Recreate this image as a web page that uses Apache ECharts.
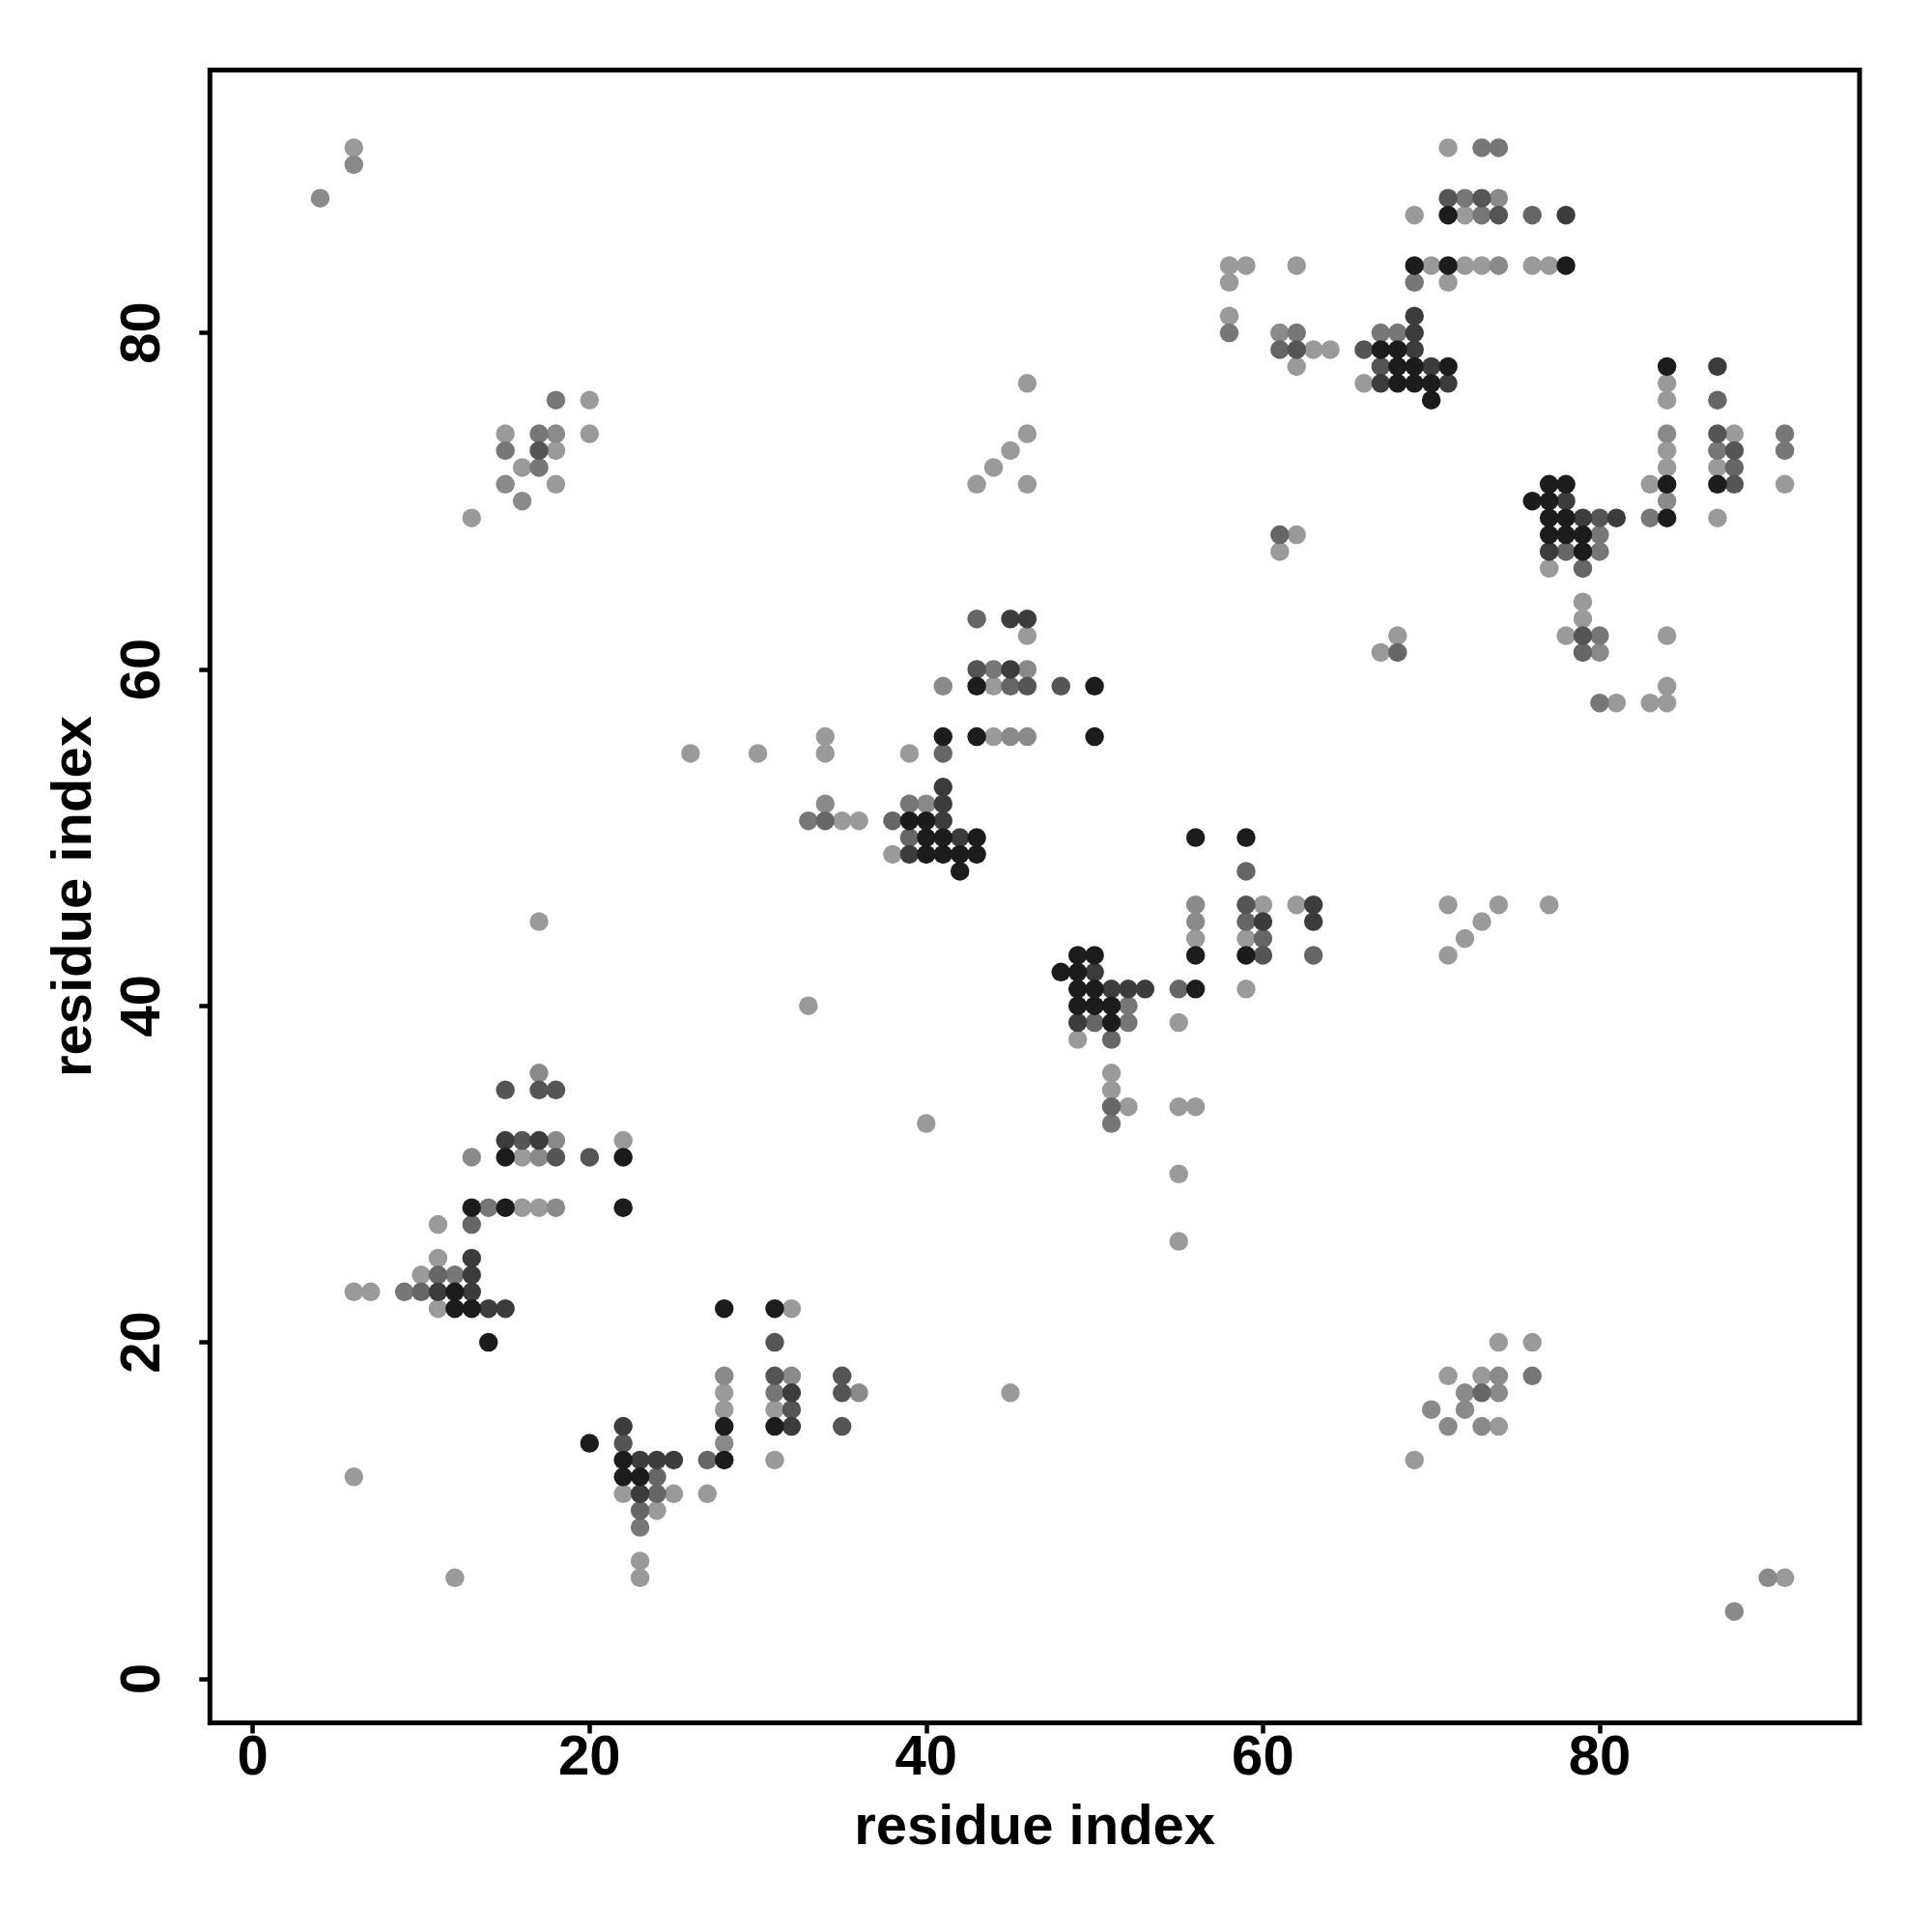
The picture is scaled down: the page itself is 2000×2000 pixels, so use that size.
<!DOCTYPE html>
<html>
<head>
<meta charset="utf-8">
<script src="https://cdn.jsdelivr.net/npm/echarts@6/dist/echarts.min.js"></script>
<style>
html,body{margin:0;padding:0;background:#fff;}
#chart{width:2000px;height:2000px;}
</style>
</head>
<body>
<div id="chart"></div>
<script>
// Tick labels
const xTicks = [0, 20, 40, 60, 80];
const yTicks = [0, 20, 40, 60, 80];
const axisTitleX = 'residue index';
const axisTitleY = 'residue index';

// Contacts [residue i, residue j], grouped by gray level (lightest -> darkest)
const level1 = [[6,91],[20,76],[15,74],[20,74],[18,73],[16,72],[18,71],[13,69],
  [58,84],[59,84],[62,84],[58,83],[58,81],[63,79],[62,78],
  [46,77],[46,74],[45,73],[44,72],[43,71],[46,71],[62,68],[61,67],
  [71,91],[69,87],[72,87],[70,84],[72,84],[73,84],[76,84],[77,84],[71,83],[64,79],[66,77],
  [84,77],[84,76],[88,74],[84,73],[84,72],[87,72],[83,71],[91,71],[87,69],[77,66],[79,64],[79,63],
  [26,55],[30,55],[17,45],[16,31],[22,32],
  [46,62],[44,59],[34,56],[44,56],[34,55],[39,55],[35,51],[36,51],[38,49],
  [60,46],[62,46],[56,44],[59,44],[59,41],[55,39],[49,38],[33,40],[51,36],[51,35],[52,34],[55,34],[56,34],[40,33],[55,30],
  [68,62],[67,61],[78,62],[84,62],[84,59],[81,58],[83,58],[84,58],
  [71,46],[74,46],[77,46],[73,45],[72,44],[71,43],
  [16,28],[17,28],[11,27],[11,25],[10,24],[6,23],[7,23],[11,22],[28,17],[28,16],[22,11],[25,11],[27,11],[24,10],[23,7],[23,6],[6,12],[12,6],
  [55,26],[32,22],[45,17],[31,16],[31,13],
  [74,20],[76,20],[71,18],[73,18],[74,15],[69,13],[91,6]];
const level2 = [[6,90],[4,88],[18,74],[15,71],[16,70],[61,80],[74,88],[74,84],[84,74],[84,70],
  [17,36],[18,32],[13,31],[17,31],
  [46,60],[41,59],[45,56],[46,56],[34,52],[40,52],[56,46],[56,45],
  [80,61],
  [18,28],[28,18],[28,14],
  [32,18],[36,17],
  [74,18],[72,17],[74,17],[70,16],[72,16],[71,15],[73,15],[90,6],[88,4]];
const level3 = [[18,76],[17,74],[15,73],[17,72],[58,80],[62,80],[73,91],[74,91],[72,88],[73,87],[69,83],[67,80],[68,80],
  [91,74],[87,73],[91,73],[83,69],[80,68],[80,67],
  [44,60],[39,52],[33,51],[52,40],[52,39],[51,33],
  [80,62],[80,58],
  [14,28],[12,24],[9,23],[23,9],
  [31,17],
  [76,18]];
const level4 = [[61,79],[61,68],[76,87],[87,76],[88,72],[78,67],[79,66],
  [43,63],[45,59],[41,55],[34,51],[38,51],[39,50],[59,48],[59,45],[60,44],[63,43],[55,41],[50,39],[51,38],[51,34],
  [68,61],[79,61],
  [13,27],[11,24],[10,23],[27,13],[24,12],[24,11],[23,10],
  [73,17]];
const level5 = [[17,73],[62,79],[71,88],[73,88],[74,87],[66,79],[67,78],[87,74],[88,73],[88,71],[80,69],
  [15,35],[17,35],[18,35],[16,32],[18,31],[20,31],
  [43,60],[46,59],[48,59],[59,46],[60,43],
  [79,62],
  [22,14],
  [31,20],[31,18],[35,18],[35,17],[32,16],[35,15]];
const level6 = [[78,87],[69,81],[69,80],[69,79],[70,78],[67,77],[71,77],[87,78],[78,70],[79,69],[81,69],[77,67],
  [15,32],[17,32],
  [45,63],[46,63],[45,60],[41,53],[41,52],[41,51],[42,50],[39,49],[63,46],[60,45],[63,45],[50,42],[51,41],[52,41],[53,41],[49,39],
  [13,25],[13,24],[11,23],[13,23],[14,22],[15,22],[22,15],[23,13],[24,13],[25,13],[23,11],
  [32,17],[32,15]];
const level7 = [[71,87],[69,84],[71,84],[78,84],[67,79],[68,79],[68,78],[69,78],[71,78],[68,77],[69,77],[70,77],[70,76],
  [84,78],[84,71],[87,71],[84,69],[77,71],[78,71],[76,70],[77,70],[77,69],[78,69],[77,68],[78,68],[79,68],[79,67],
  [15,31],[22,31],
  [43,59],[50,59],[41,56],[43,56],[50,56],[39,51],[40,51],[40,50],[41,50],[43,50],[40,49],[41,49],[42,49],[43,49],[42,48],
  [56,50],[59,50],[56,43],[59,43],[49,43],[50,43],[48,42],[49,42],[49,41],[50,41],[56,41],[49,40],[50,40],[51,40],[51,39],
  [13,28],[15,28],[22,28],[12,23],[12,22],[13,22],[28,22],[14,20],[28,15],[28,13],[20,14],[22,13],[22,12],[23,12],
  [31,22],[31,15]];

const levels = [level1, level2, level3, level4, level5, level6, level7];
const levelColors = ['#9a9a9a', '#8a8a8a', '#777777', '#666666', '#555555', '#3c3c3c', '#1c1c1c'];

const font = 'Liberation Sans, Arial, Helvetica, sans-serif';
const chart = echarts.init(document.getElementById('chart'), null, {renderer: 'canvas', width: 2000, height: 2000});

const labelStyle = {fontSize: 58, fontWeight: 'bold', color: '#000', fontFamily: font};

chart.setOption({
  animation: false,
  backgroundColor: '#fff',
  grid: {left: 217.3, right: 75, top: 72.5, bottom: 216.5, show: true, borderColor: '#000', borderWidth: 5, backgroundColor: 'transparent'},
  xAxis: {
    type: 'value', min: -2.55, max: 95.44,
    splitLine: {show: false},
    axisLine: {show: false, onZero: false},
    axisTick: {show: true, inside: false, length: 11, customValues: xTicks, lineStyle: {color: '#000', width: 4.5}},
    axisLabel: Object.assign({customValues: xTicks, margin: 8}, labelStyle),
    name: axisTitleX, nameLocation: 'middle', nameGap: 80,
    nameTextStyle: labelStyle
  },
  yAxis: {
    type: 'value', min: -2.62, max: 95.62,
    splitLine: {show: false},
    axisLine: {show: false, onZero: false},
    axisTick: {show: true, inside: false, length: 11, customValues: yTicks, lineStyle: {color: '#000', width: 4.5}},
    axisLabel: Object.assign({customValues: yTicks, margin: 39, rotate: 90}, labelStyle),
    name: axisTitleY, nameLocation: 'middle', nameGap: 110, nameRotate: 90,
    nameTextStyle: labelStyle
  },
  series: levels.map((d, i) => ({
    type: 'scatter',
    data: d,
    symbol: 'circle',
    symbolSize: 19.5,
    itemStyle: {color: levelColors[i], opacity: 1},
    z: 2 + i,
    silent: true
  }))
});
</script>
</body>
</html>
